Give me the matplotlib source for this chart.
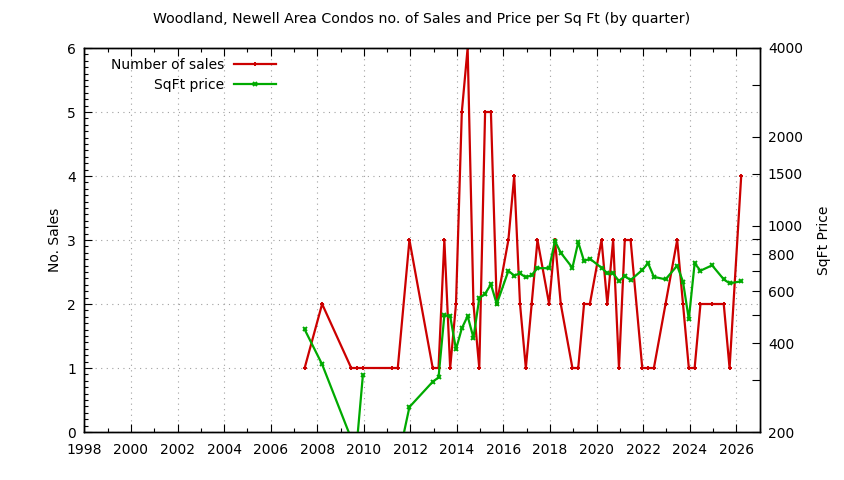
import numpy as np
import matplotlib
matplotlib.use('Agg')
import matplotlib.pyplot as plt
from matplotlib.ticker import MultipleLocator, FixedLocator, NullFormatter

plt.rcParams['font.family'] = ['DejaVu Sans']

# quarters (year, quarter) with a sale
years = [2007, 2008, 2009, 2009, 2009, 2011, 2011, 2011, 2012, 2013, 2013, 2013, 2013,
         2014, 2014, 2014, 2014, 2015, 2015, 2015, 2016, 2016, 2016, 2016, 2017, 2017,
         2017, 2018, 2018, 2018, 2019, 2019, 2019, 2020, 2020, 2020, 2020, 2021, 2021,
         2021, 2022, 2022, 2022, 2023, 2023, 2023, 2024, 2024, 2024, 2025, 2025, 2026]
quarters = [2, 1, 2, 3, 4, 1, 2, 4, 4, 1, 2, 3, 4,
            1, 2, 3, 4, 1, 2, 3, 1, 2, 3, 4, 1, 2,
            4, 1, 2, 4, 1, 2, 3, 1, 2, 3, 4, 1, 2,
            4, 1, 2, 4, 2, 3, 4, 1, 2, 4, 2, 3, 1]
sales = [1, 2, 1, 1, 1, 1, 1, 3, 1, 1, 3, 1, 2,
         5, 6, 2, 1, 5, 5, 2, 3, 4, 2, 1, 2, 3,
         2, 3, 2, 1, 1, 2, 2, 3, 2, 3, 1, 3, 3,
         1, 1, 1, 2, 3, 2, 1, 1, 2, 2, 2, 1, 4]
sqft_price = [445, 339, 190, 186, 311, np.nan, 159, 243, 296, 306, 497, 494, 381,
              449, 494, 417, 568, 588, 633, 543, 703, 678, 689, 668, 680, 718,
              718, 887, 810, 720, 879, 759, 773, 720, 689, 689, 649, 675, 654,
              708, 746, 671, 658, 732, 646, 482, 746, 704, 734, 658, 638, 648]

price_ticks = [200, 400, 600, 800, 1000, 1500, 2000, 4000]
price_minor = [300, 500, 700, 900, 3000]

# decimal year for each quarter
x = np.array(years) + 0.21 + 0.25 * (np.array(quarters) - 1)

fig = plt.figure(figsize=(8.44, 4.80), dpi=100)
ax = fig.add_axes([0.1, 0.1, 0.8, 0.8])
ax2 = ax.twinx()

red = '#cc0000'
green = '#00aa00'

l1, = ax.plot(x, sales, color=red, lw=1.6, marker='+', ms=3.5, mew=1.4, label='Number of sales')
l2, = ax2.plot(x, sqft_price, color=green, lw=1.6, marker='x', ms=3.5, mew=1.4, label='SqFt price')

ax.set_xlim(1998, 2027)
ax.set_ylim(0, 6)
ax2.set_yscale('log')
ax2.set_ylim(200, 4000)

ax.xaxis.set_major_locator(MultipleLocator(2))
ax.xaxis.set_minor_locator(MultipleLocator(1))
ax.yaxis.set_major_locator(MultipleLocator(1))
ax.yaxis.set_minor_locator(MultipleLocator(0.1))
ax.xaxis.set_major_formatter(plt.FuncFormatter(lambda v, p: '%d' % v))

ax2.yaxis.set_major_locator(FixedLocator(price_ticks))
ax2.yaxis.set_major_formatter(plt.FuncFormatter(lambda v, p: '%d' % v))
ax2.yaxis.set_minor_locator(FixedLocator(price_minor))
ax2.yaxis.set_minor_formatter(NullFormatter())

ax.tick_params(axis='x', which='both', direction='in', top=True, labelsize=10, pad=8)
ax.tick_params(axis='y', which='both', direction='in', right=False, labelsize=10, pad=6)
ax.tick_params(which='major', length=6, width=0.8)
ax.tick_params(which='minor', length=3, width=0.8)
ax2.tick_params(axis='y', which='both', direction='in', labelsize=10, pad=6, width=0.8)
ax2.tick_params(which='major', length=6)
ax2.tick_params(which='minor', length=6)

ax.grid(True, which='major', color='#a0a0a0', linestyle=(0, (1, 4)), linewidth=0.8)

for a in (ax, ax2):
    for s in a.spines.values():
        s.set_linewidth(1)

ax.set_ylabel('No. Sales', fontsize=10, labelpad=4)
ax2.set_ylabel('SqFt Price', fontsize=10, rotation=90, labelpad=10)

fig.text(0.5, 0.96, 'Woodland, Newell Area Condos no. of Sales and Price per Sq Ft (by quarter)',
         ha='center', va='center', fontsize=10.2)

leg = ax.legend(handles=[l1, l2], loc='upper left', bbox_to_anchor=(0.025, 1.0),
                frameon=False, markerfirst=False, handlelength=3.0, fontsize=10,
                borderaxespad=0.3, labelspacing=0.45, handletextpad=0.7)
for t in leg.get_texts():
    t.set_ha('right')
leg._legend_box.align = 'right'

fig.savefig('out.png', dpi=100)
